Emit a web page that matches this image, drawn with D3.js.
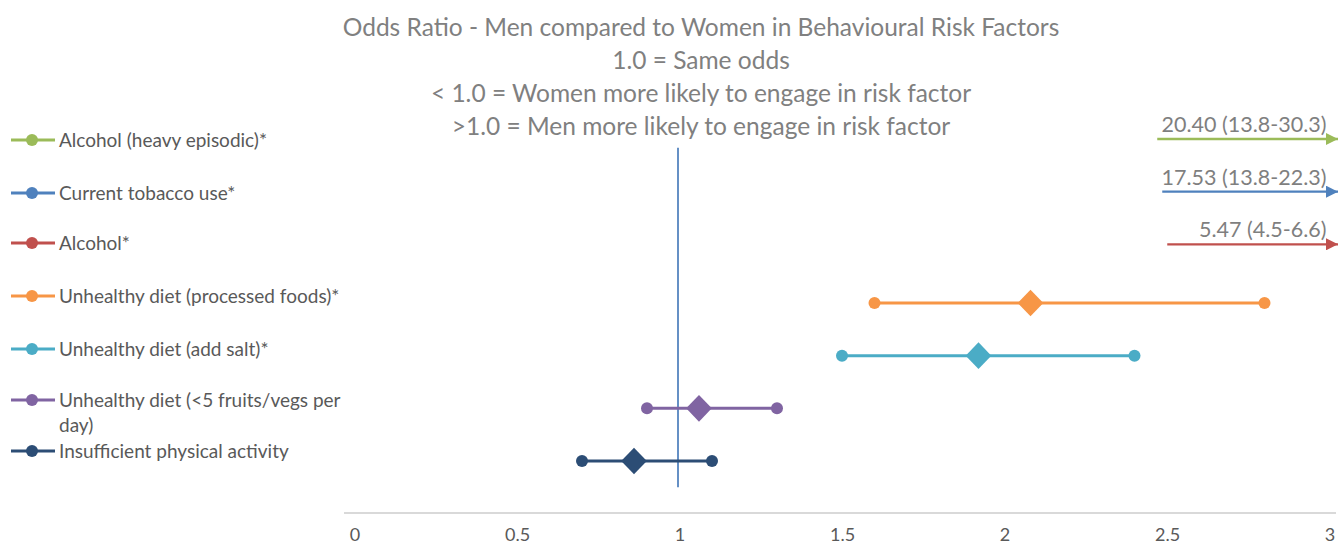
<!DOCTYPE html>
<html>
<head>
<meta charset="utf-8">
<script src="https://cdn.jsdelivr.net/npm/d3@7"></script>
<style>
  html, body { margin: 0; padding: 0; background: #fff; }
  svg { display: block; font-family: Lato, "Open Sans", "Liberation Sans", sans-serif; }
</style>
</head>
<body>
<svg id="chart" width="1338" height="547"></svg>
<script>
// Risk factors, top to bottom
const categories = [
  "Alcohol (heavy episodic)*",
  "Current tobacco use*",
  "Alcohol*",
  "Unhealthy diet (processed foods)*",
  "Unhealthy diet (add salt)*",
  "Unhealthy diet (<5 fruits/vegs per day)",
  "Insufficient physical activity"
];
const seriesColors = ["#9BBB59", "#4F81BD", "#C0504D", "#F79646", "#4BACC6", "#8064A2", "#2C4D75"];

// Odds ratios with 95% confidence interval
const oddsRatio = [20.40, 17.53, 5.47, 2.08, 1.92, 1.06, 0.86];
const ciLow     = [13.8, 13.8, 4.5, 1.6, 1.5, 0.9, 0.7];
const ciHigh    = [30.3, 22.3, 6.6, 2.8, 2.4, 1.3, 1.1];

const xTicks = [0, 0.5, 1, 1.5, 2, 2.5, 3];
const titleLines = [
  "Odds Ratio - Men compared to Women in Behavioural Risk Factors",
  "1.0 = Same odds",
  "< 1.0 = Women more likely to engage in risk factor",
  ">1.0 = Men more likely to engage in risk factor"
];

const svg = d3.select("#chart");
const W = 1338, H = 547;

const x = d3.scaleLinear().domain([0, 3]).range([354.5, 1329.5]);
// categories sit on 7..1 (top to bottom), like a scatter y axis
const y = d3.scaleLinear().domain([1, 7]).range([461, 145]);
const yPos = i => y(categories.length - i);

const gray = "#595959";

// Title
svg.append("g").selectAll("text")
  .data(titleLines).join("text")
  .attr("x", 701)
  .attr("y", (d, i) => 36 + i * 33)
  .attr("text-anchor", "middle")
  .attr("font-size", 24.5)
  .attr("fill", "#808080")
  .text(d => d);

// Horizontal axis
const axisY = 513;
svg.append("line")
  .attr("x1", 344).attr("x2", 1336)
  .attr("y1", axisY).attr("y2", axisY)
  .attr("stroke", "#d9d9d9").attr("stroke-width", 2);

const xAxis = d3.axisBottom(x).tickValues(xTicks).tickSize(0).tickPadding(0)
  .tickFormat(d3.format("~g"));
const axG = svg.append("g").attr("transform", `translate(0,${axisY + 15})`).call(xAxis);
axG.select(".domain").remove();
axG.selectAll("text")
  .attr("font-size", 18)
  .attr("fill", gray)
  .attr("font-family", "Lato, 'Open Sans', sans-serif");

// Reference line at odds ratio 1.0
svg.append("line")
  .attr("x1", x(1) - 1.5).attr("x2", x(1) - 1.5)
  .attr("y1", y(6.95)).attr("y2", y(0.5))
  .attr("stroke", "#4F81BD").attr("stroke-width", 1.75);

// Rows whose interval fits the axis: whiskers + diamond
const rows = categories.map((c, i) => ({
  c, i, or: oddsRatio[i], lo: ciLow[i], hi: ciHigh[i], color: seriesColors[i]
}));
const inRange = rows.filter(d => d.hi <= x.domain()[1]);
const offRange = rows.filter(d => d.hi > x.domain()[1]);

const g = svg.append("g");
const row = g.selectAll("g.row").data(inRange).join("g").attr("class", "row");
row.append("line")
  .attr("x1", d => x(d.lo)).attr("x2", d => x(d.hi))
  .attr("y1", d => yPos(d.i)).attr("y2", d => yPos(d.i))
  .attr("stroke", d => d.color).attr("stroke-width", 3);
row.selectAll("circle").data(d => [d.lo, d.hi].map(v => ({ v, d }))).join("circle")
  .attr("cx", e => x(e.v)).attr("cy", e => yPos(e.d.i))
  .attr("r", 6).attr("fill", e => e.d.color);
row.append("path")
  .attr("d", d3.symbol(d3.symbolDiamond2, 420))
  .attr("transform", d => `translate(${x(d.or)},${yPos(d.i)}) scale(1,1.04)`)
  .attr("fill", d => d.color);

// Rows off the scale: value label and arrow pointing beyond the axis
const defs = svg.append("defs");
offRange.forEach(d => {
  defs.append("marker")
    .attr("id", "arr" + d.i)
    .attr("viewBox", "0 0 10 10")
    .attr("refX", 10).attr("refY", 5)
    .attr("markerWidth", 5).attr("markerHeight", 5)
    .attr("markerUnits", "strokeWidth")
    .attr("orient", "auto")
    .append("path").attr("d", "M0,0L10,5L0,10Z").attr("fill", d.color);
});
const off = g.selectAll("g.off").data(offRange).join("g").attr("class", "off");
off.each(function (d, k) {
  const gg = d3.select(this);
  const yy = yPos(d.i) - 6;
  gg.append("text")
    .attr("x", x(3) - 3).attr("y", yy - 7)
    .attr("text-anchor", "end")
    .attr("font-size", 21.5)
    .attr("fill", "#7f7f7f")
    .text(`${d.or.toFixed(2)} (${d.lo}-${d.hi})`);
  gg.append("line")
    .attr("x1", x(2.47) + k * 5).attr("x2", W)
    .attr("y1", yy).attr("y2", yy)
    .attr("stroke", d.color).attr("stroke-width", 2.4)
    .attr("marker-end", `url(#arr${d.i})`);
});

// Legend
const legendRows = [140, 193, 243, 296, 349, 400, 451];
const leg = svg.append("g").selectAll("g").data(rows).join("g")
  .attr("transform", (d, i) => `translate(0,${legendRows[i]})`);
leg.append("line").attr("x1", 11).attr("x2", 55).attr("y1", 0).attr("y2", 0)
  .attr("stroke", d => d.color).attr("stroke-width", 3);
leg.append("circle").attr("cx", 32).attr("cy", 0).attr("r", 6).attr("fill", d => d.color);
leg.each(function (d) {
  const t = d3.select(this).append("text")
    .attr("x", 59).attr("y", 6.5)
    .attr("font-size", 19)
    .attr("fill", gray);
  if (d.c === "Unhealthy diet (<5 fruits/vegs per day)") {
    t.append("tspan").attr("x", 59).attr("dy", 0).text("Unhealthy diet (<5 fruits/vegs per");
    t.append("tspan").attr("x", 59).attr("dy", 25).text("day)");
  } else {
    t.text(d.c);
  }
});
</script>
</body>
</html>
